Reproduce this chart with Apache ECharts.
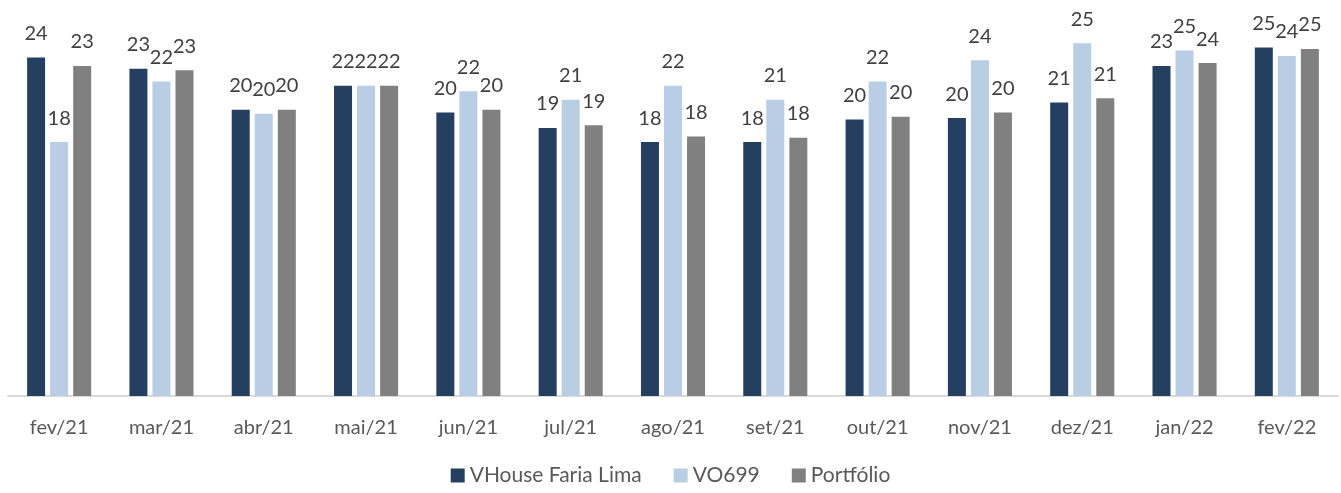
<!DOCTYPE html>
<html>
<head>
<meta charset="utf-8">
<script src="https://cdn.jsdelivr.net/npm/echarts@6/dist/echarts.min.js"></script>
<style>
  html, body { margin: 0; padding: 0; background: #fff; }
  #chart { width: 1341px; height: 493px; }
</style>
</head>
<body>
<div id="chart"></div>
<script>
const months = ['fev/21', 'mar/21', 'abr/21', 'mai/21', 'jun/21', 'jul/21', 'ago/21',
  'set/21', 'out/21', 'nov/21', 'dez/21', 'jan/22', 'fev/22']
const vhouse = [24.0, 23.2, 20.3, 22.0, 20.1, 19.0, 18.0, 18.0, 19.6, 19.7, 20.8, 23.4, 24.7]
const vo699 = [18.0, 22.3, 20.0, 22.0, 21.6, 21.0, 22.0, 21.0, 22.3, 23.8, 25.0, 24.5, 24.1]
const portfolio = [23.4, 23.1, 20.3, 22.0, 20.3, 19.2, 18.4, 18.3, 19.8, 20.1, 21.1, 23.6, 24.6]

const font = 'Lato, "Open Sans", sans-serif'

function barSeries(name, data, color) {
  return {
    name: name,
    type: 'bar',
    data: data,
    barWidth: 18,
    barGap: '28%',
    itemStyle: { color: color },
    label: {
      show: true,
      position: 'top',
      distance: 14,
      color: '#404040',
      fontFamily: font,
      fontSize: 20,
      formatter: p => Math.round(p.value)
    }
  }
}

const chart = echarts.init(document.getElementById('chart'))
chart.setOption({
  animation: false,
  grid: { left: 8, right: 3, top: 1, bottom: 97 },
  legend: {
    bottom: 2,
    left: 'center',
    itemWidth: 14,
    itemHeight: 14,
    itemGap: 32,
    icon: 'rect',
    textStyle: { color: '#595959', fontFamily: font, fontSize: 21 },
    data: ['VHouse Faria Lima', 'VO699', 'Portfólio']
  },
  xAxis: {
    type: 'category',
    data: months,
    axisLine: { lineStyle: { color: '#d9d9d9', width: 2 } },
    axisTick: { show: false },
    axisLabel: { color: '#595959', fontFamily: font, fontSize: 20, margin: 22 }
  },
  yAxis: {
    type: 'value',
    min: 0,
    max: 28,
    show: false,
    splitLine: { show: false }
  },
  series: [
    barSeries('VHouse Faria Lima', vhouse, '#243F60'),
    barSeries('VO699', vo699, '#B9CDE5'),
    barSeries('Portfólio', portfolio, '#808080')
  ]
})
</script>
</body>
</html>
